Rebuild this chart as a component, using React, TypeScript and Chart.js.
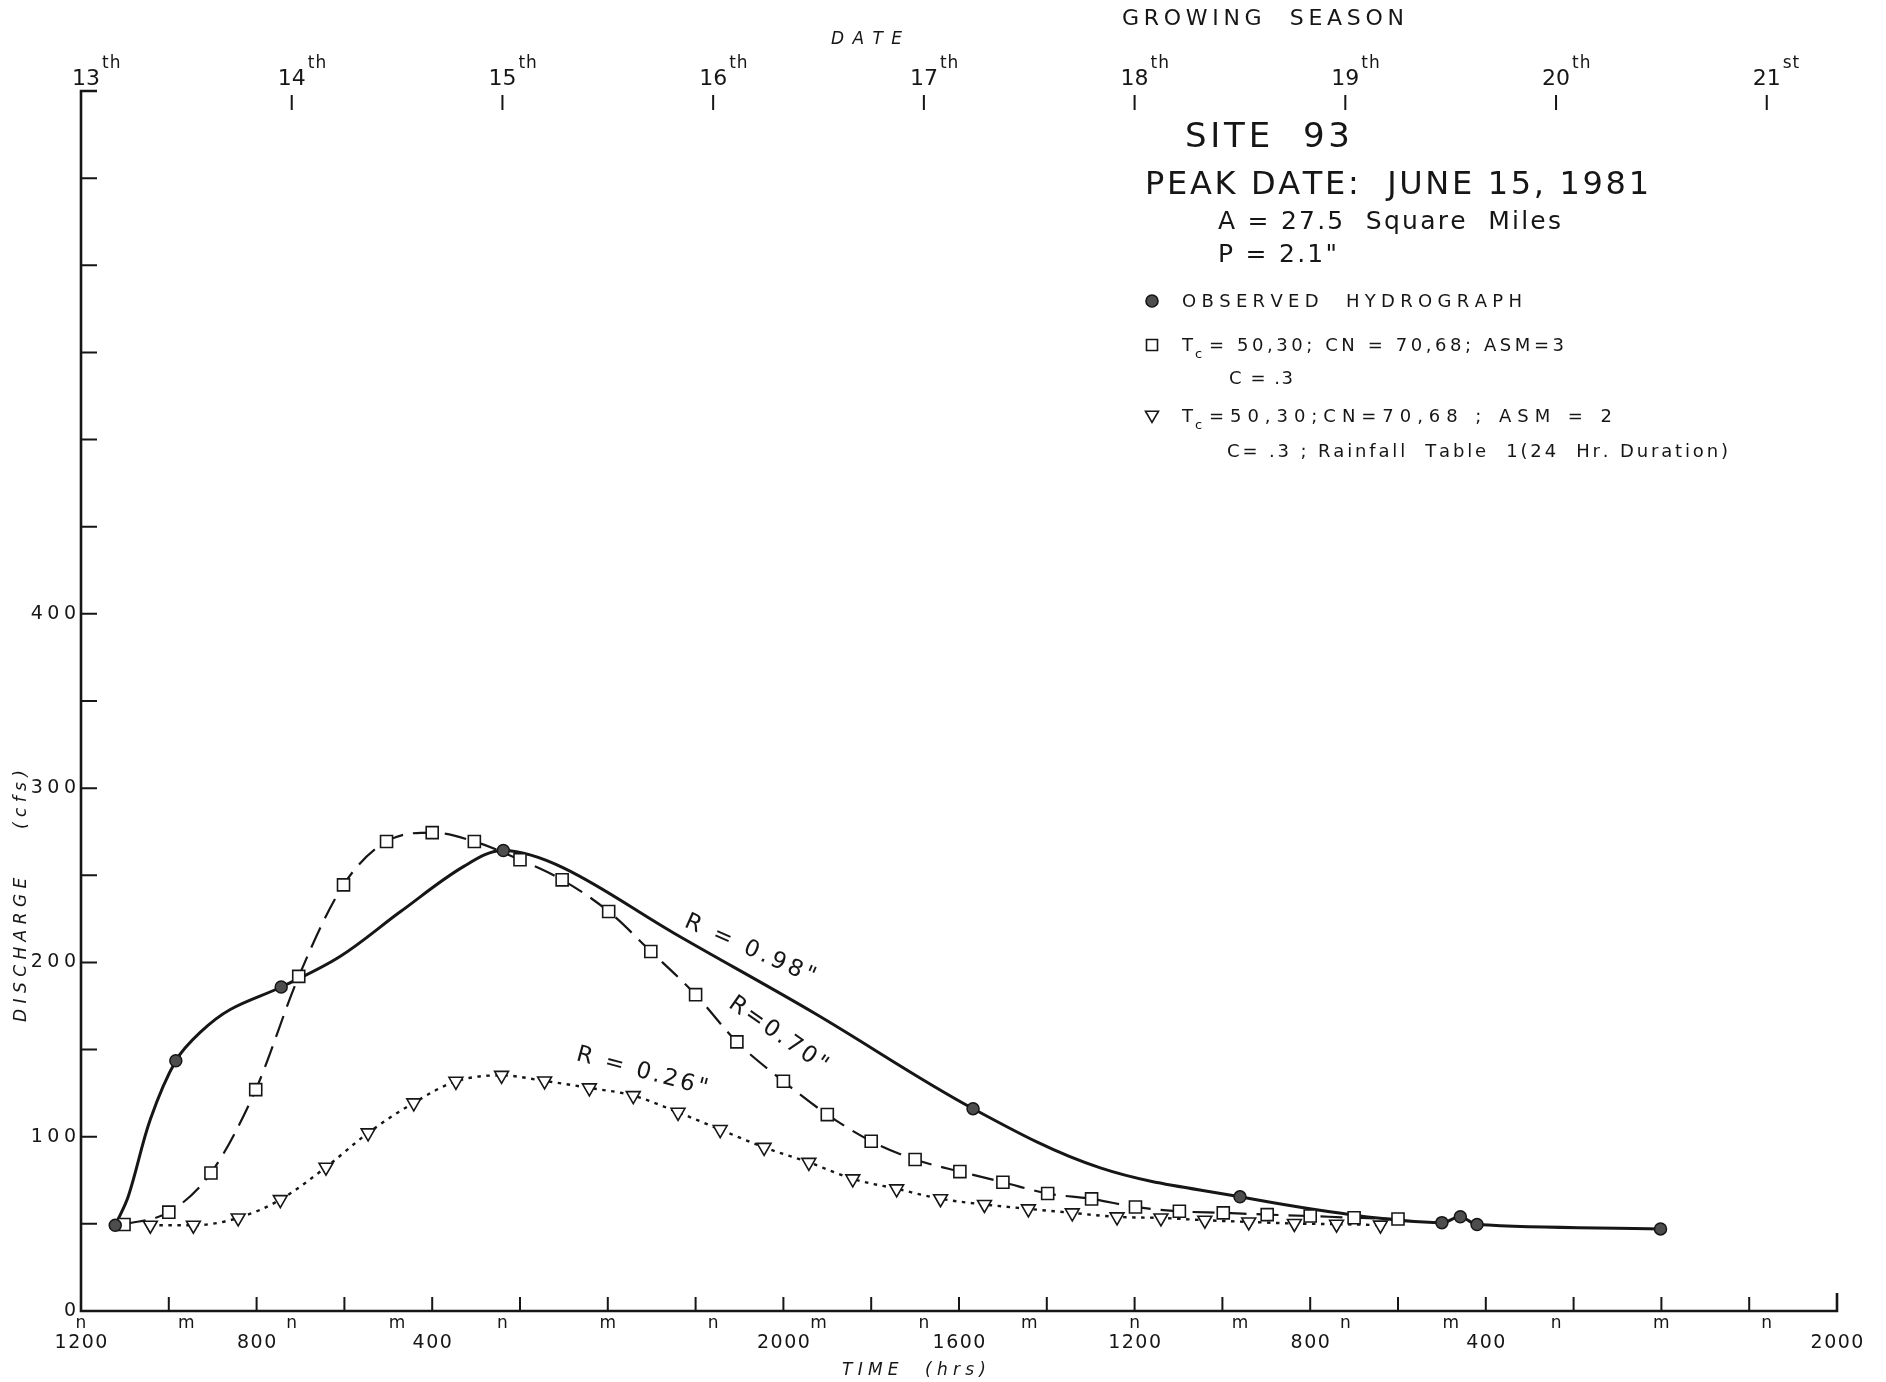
import { useEffect, useRef } from 'react';
import { Chart, registerables } from 'chart.js';

Chart.register(...registerables);

const W = 1886;
const H = 1382;

// Observed hydrograph (filled circles): hours from noon of the 13th, discharge in cfs
const observedHours = [3.9, 10.8, 22.8, 48.1, 101.6, 132.0, 155.0, 157.1, 159.0, 179.9];
const observedCfs = [49.2, 143.6, 185.9, 264.2, 116.1, 65.5, 50.7, 54.1, 49.6, 47.1];

// Hand-faired curve through the observed points (R = 0.98")
const observedCurveHours = [3.9, 5.4, 7.9, 10.8, 13.6, 17.0, 22.8, 29.5, 36.4, 43.6, 48.1, 55.0, 67.5, 83.5, 101.6, 116.1, 132.0, 145.0, 155.0, 157.1, 159.0, 179.9];
const observedCurveCfs = [49.2, 66.0, 110.0, 143.6, 160.0, 173.0, 185.9, 203.4, 229.2, 255.1, 264.2, 254.1, 216.9, 171.0, 116.1, 82.1, 65.5, 55.0, 50.7, 54.1, 49.6, 47.1];

// Tc = 50,30; CN = 70,68; ASM = 3 (open squares, R = 0.70")
const asm3Hours = [4.9, 10.0, 14.8, 19.9, 24.8, 29.9, 34.8, 40.0, 44.8, 50.0, 54.8, 60.1, 64.9, 70.0, 74.7, 80.0, 85.0, 90.0, 95.0, 100.1, 105.0, 110.1, 115.1, 120.1, 125.1, 130.1, 135.1, 140.0, 145.0, 150.0];
const asm3Cfs = [49.6, 56.7, 79.2, 127.0, 192.0, 244.5, 269.4, 274.5, 269.4, 258.9, 247.4, 229.2, 206.3, 181.5, 154.4, 131.8, 112.7, 97.4, 86.9, 80.0, 73.9, 67.4, 64.3, 59.7, 57.2, 56.3, 55.3, 54.5, 53.5, 52.8];

// Tc = 50,30; CN = 70,68; ASM = 2 (open triangles, R = 0.26")
const asm2Hours = [7.9, 12.8, 17.9, 22.7, 27.9, 32.7, 37.9, 42.7, 47.9, 52.8, 57.9, 62.9, 68.0, 72.8, 77.8, 82.9, 87.9, 92.9, 97.9, 102.9, 107.9, 112.9, 118.0, 123.0, 128.0, 133.0, 138.2, 143.0, 148.0];
const asm2Cfs = [49.2, 49.2, 53.4, 63.9, 82.5, 102.2, 119.4, 131.8, 135.2, 132.0, 128.0, 123.6, 114.0, 104.1, 93.9, 85.3, 75.8, 70.1, 64.4, 61.1, 58.6, 56.3, 54.0, 53.4, 52.1, 51.1, 50.2, 49.8, 49.3];

// Discharge axis
const dischargeTicks = [50, 100, 150, 200, 250, 300, 350, 400, 450, 500, 550, 600, 650];
const dischargeLabels = [0, 100, 200, 300, 400];

// Time axis
const timeTickHours = [10, 20, 30, 40, 50, 60, 70, 80, 90, 100, 110, 120, 130, 140, 150, 160, 170, 180, 190];
const clockHours = [0, 12, 24, 36, 48, 60, 72, 84, 96, 108, 120, 132, 144, 156, 168, 180, 192];
const clockLabels = ['n', 'm', 'n', 'm', 'n', 'm', 'n', 'm', 'n', 'm', 'n', 'm', 'n', 'm', 'n', 'm', 'n'];
const timeNumberHours = [0, 20, 40, 80, 100, 120, 140, 160, 200];
const timeNumberLabels = ['1200', '800', '400', '2000', '1600', '1200', '800', '400', '2000'];

// Date axis (top)
const dayHours = [0, 24, 48, 72, 96, 120, 144, 168, 192];
const dayNumbers = ['13', '14', '15', '16', '17', '18', '19', '20', '21'];
const daySuffixes = ['th', 'th', 'th', 'th', 'th', 'th', 'th', 'th', 'st'];

// Rainfall excess labels on the curves
const rainfallLabels = ['R = 0.98"', 'R=0.70"', 'R = 0.26"'];

const pairs = (xs: number[], ys: number[]) => xs.map((x, i) => ({ x, y: ys[i] }));

const FONT = '"DejaVu Sans", "Liberation Sans", sans-serif';
const INK = '#161616';

type Ctx = CanvasRenderingContext2D;

function spaced(ctx: Ctx, text: string, x: number, y: number, gap: number, align: 'left' | 'center' | 'right') {
  const chars = Array.from(text);
  const ws = chars.map((c) => ctx.measureText(c).width);
  const total = ws.reduce((a, b) => a + b, 0) + gap * (chars.length - 1);
  let cx = align === 'left' ? x : align === 'right' ? x - total : x - total / 2;
  ctx.textAlign = 'left';
  chars.forEach((c, i) => {
    ctx.fillText(c, cx, y);
    cx += ws[i] + gap;
  });
  return total;
}

function fitted(ctx: Ctx, text: string, x0: number, x1: number, y: number) {
  const chars = Array.from(text);
  const ws = chars.map((c) => ctx.measureText(c).width);
  const sum = ws.reduce((a, b) => a + b, 0);
  const gap = chars.length > 1 ? (x1 - x0 - sum) / (chars.length - 1) : 0;
  let cx = x0;
  ctx.textAlign = 'left';
  chars.forEach((c, i) => {
    ctx.fillText(c, cx, y);
    cx += ws[i] + gap;
  });
}

function triangleDown(ctx: Ctx, x: number, y: number, r: number) {
  ctx.beginPath();
  ctx.moveTo(x - r * 0.866, y - r * 0.5);
  ctx.lineTo(x + r * 0.866, y - r * 0.5);
  ctx.lineTo(x, y + r);
  ctx.closePath();
}

const paperPlugin = {
  id: 'hydrographPaper',
  beforeDraw(chart: any) {
    const ctx: Ctx = chart.ctx;
    ctx.save();
    ctx.fillStyle = '#ffffff';
    ctx.fillRect(0, 0, chart.width, chart.height);
    ctx.restore();
  },
  beforeDatasetsDraw(chart: any) {
    const ctx: Ctx = chart.ctx;
    const xs = chart.scales.x;
    const ys = chart.scales.y;
    const xL = xs.getPixelForValue(0);
    const xR = xs.getPixelForValue(200);
    const yB = ys.getPixelForValue(0);
    const yT = ys.getPixelForValue(700);
    ctx.save();
    ctx.strokeStyle = INK;
    ctx.lineCap = 'butt';
    ctx.lineWidth = 2.6;
    ctx.beginPath();
    ctx.moveTo(xL + 16, yT);
    ctx.lineTo(xL, yT);
    ctx.lineTo(xL, yB);
    ctx.lineTo(xR, yB);
    ctx.lineTo(xR, yB - 18);
    ctx.stroke();

    ctx.lineWidth = 2;
    ctx.beginPath();
    dischargeTicks.forEach((v) => {
      const py = ys.getPixelForValue(v);
      ctx.moveTo(xL, py);
      ctx.lineTo(xL + 16, py);
    });
    timeTickHours.forEach((h) => {
      const px = xs.getPixelForValue(h);
      ctx.moveTo(px, yB);
      ctx.lineTo(px, yB - 14);
    });
    dayHours.slice(1).forEach((h) => {
      const px = xs.getPixelForValue(h);
      ctx.moveTo(px, yT + 4);
      ctx.lineTo(px, yT + 19);
    });
    ctx.stroke();
    ctx.restore();
  },
  afterDraw(chart: any) {
    const ctx: Ctx = chart.ctx;
    const xs = chart.scales.x;
    const ys = chart.scales.y;
    const yB = ys.getPixelForValue(0);
    const yT = ys.getPixelForValue(700);
    ctx.save();
    ctx.fillStyle = INK;
    ctx.textBaseline = 'middle';

    // discharge tick labels
    ctx.font = `19px ${FONT}`;
    dischargeLabels.forEach((v) => {
      spaced(ctx, String(v), xs.getPixelForValue(0) - 5, ys.getPixelForValue(v), 4.5, 'right');
    });

    // noon / midnight letters
    ctx.font = `17px ${FONT}`;
    clockHours.forEach((h, i) => {
      spaced(ctx, clockLabels[i], xs.getPixelForValue(h), yB + 13, 0, 'center');
    });
    // clock hour numbers
    ctx.font = `19px ${FONT}`;
    timeNumberHours.forEach((h, i) => {
      spaced(ctx, timeNumberLabels[i], xs.getPixelForValue(h), yB + 32, 1.5, 'center');
    });

    // day labels along the top
    dayHours.forEach((h, i) => {
      const px = xs.getPixelForValue(h) + (i === 0 ? 5 : 0);
      ctx.font = `22px ${FONT}`;
      const w = spaced(ctx, dayNumbers[i], px, yT - 12, 0, 'center');
      ctx.font = `17px ${FONT}`;
      spaced(ctx, daySuffixes[i], px + w / 2 + 2, yT - 27, 1, 'left');
    });

    // axis titles
    ctx.font = `22px ${FONT}`;
    fitted(ctx, 'GROWING  SEASON', 1122, 1404, 19);
    ctx.font = `italic 17px ${FONT}`;
    fitted(ctx, 'DATE', 831, 902, 40);
    fitted(ctx, 'TIME  (hrs)', 842, 986, 1371);
    ctx.save();
    ctx.translate(22, 896);
    ctx.rotate(-Math.PI / 2);
    fitted(ctx, 'DISCHARGE    (cfs)', -126, 126, 0);
    ctx.restore();

    // site block
    ctx.font = `34px ${FONT}`;
    fitted(ctx, 'SITE  93', 1185, 1350, 138);
    ctx.font = `32px ${FONT}`;
    fitted(ctx, 'PEAK DATE:  JUNE 15, 1981', 1145, 1649, 186);
    ctx.font = `25px ${FONT}`;
    fitted(ctx, 'A = 27.5  Square  Miles', 1218, 1561, 222);
    fitted(ctx, 'P = 2.1"', 1218, 1337, 255);

    // legend
    ctx.font = `18px ${FONT}`;
    fitted(ctx, 'OBSERVED  HYDROGRAPH', 1182, 1522, 302);
    ctx.fillText('T', 1182, 346);
    ctx.fillText('T', 1182, 417);
    fitted(ctx, '= 50,30; CN = 70,68; ASM=3', 1209, 1564, 346);
    fitted(ctx, 'C = .3', 1229, 1293, 379);
    fitted(ctx, '=50,30;CN=70,68 ; ASM = 2', 1209, 1612, 417);
    fitted(ctx, 'C= .3 ; Rainfall  Table  1(24  Hr. Duration)', 1227, 1728, 452);
    ctx.font = `13px ${FONT}`;
    ctx.fillText('c', 1195, 355);
    ctx.fillText('c', 1195, 426);

    ctx.strokeStyle = INK;
    ctx.lineWidth = 1.6;
    ctx.beginPath();
    ctx.arc(1152, 301, 6, 0, Math.PI * 2);
    ctx.fillStyle = '#4d4d4d';
    ctx.fill();
    ctx.stroke();
    ctx.fillStyle = '#ffffff';
    ctx.beginPath();
    ctx.rect(1146.5, 339.5, 11, 11);
    ctx.fill();
    ctx.stroke();
    triangleDown(ctx, 1152, 415, 7.5);
    ctx.fill();
    ctx.stroke();

    // rainfall excess labels written along the curves
    ctx.fillStyle = INK;
    ctx.font = `23px ${FONT}`;
    const placements = [
      { h: 76.2, q: 207.4, deg: 24, len: 141 },
      { h: 79.4, q: 158.6, deg: 35, len: 115 },
      { h: 63.9, q: 137.3, deg: 15, len: 135 },
    ];
    rainfallLabels.forEach((t, i) => {
      const p = placements[i];
      ctx.save();
      ctx.translate(xs.getPixelForValue(p.h), ys.getPixelForValue(p.q));
      ctx.rotate((p.deg * Math.PI) / 180);
      fitted(ctx, t, -p.len / 2, p.len / 2, 0);
      ctx.restore();
    });
    ctx.restore();
  },
};

export default function App() {
  const ref = useRef<HTMLCanvasElement | null>(null);

  useEffect(() => {
    document.body.style.margin = '0';
    document.body.style.overflow = 'hidden';
    const canvas = ref.current;
    if (!canvas) return;
    const chart = new Chart(canvas, {
      type: 'scatter',
      data: {
        datasets: [
          {
            label: 'Observed hydrograph',
            data: pairs(observedHours, observedCfs),
            showLine: false,
            pointStyle: 'circle',
            pointRadius: 6,
            backgroundColor: '#4d4d4d',
            borderColor: INK,
            borderWidth: 1.5,
            order: 0,
            clip: false,
          },
          {
            label: 'ASM = 3',
            data: pairs(asm3Hours, asm3Cfs),
            showLine: false,
            pointStyle: 'rect',
            pointRadius: 8.5,
            backgroundColor: '#ffffff',
            borderColor: INK,
            borderWidth: 1.6,
            order: 0,
            clip: false,
          },
          {
            label: 'ASM = 2',
            data: pairs(asm2Hours, asm2Cfs),
            showLine: false,
            pointStyle: 'triangle',
            rotation: 180,
            pointRadius: 8,
            backgroundColor: '#ffffff',
            borderColor: INK,
            borderWidth: 1.6,
            order: 0,
            clip: false,
          },
          {
            label: 'Observed curve',
            data: pairs(observedCurveHours, observedCurveCfs),
            showLine: true,
            pointRadius: 0,
            borderColor: INK,
            borderWidth: 3,
            tension: 0.35,
            fill: false,
            order: 1,
            clip: false,
          },
          {
            label: 'ASM = 3 curve',
            data: pairs(asm3Hours, asm3Cfs),
            showLine: true,
            pointRadius: 0,
            borderColor: INK,
            borderWidth: 2.2,
            borderDash: [22, 10],
            cubicInterpolationMode: 'monotone',
            fill: false,
            order: 1,
            clip: false,
          },
          {
            label: 'ASM = 2 curve',
            data: pairs(asm2Hours, asm2Cfs),
            showLine: true,
            pointRadius: 0,
            borderColor: INK,
            borderWidth: 2.4,
            borderDash: [3.5, 5.5],
            cubicInterpolationMode: 'monotone',
            fill: false,
            order: 1,
            clip: false,
          },
        ] as any,
      },
      options: {
        responsive: false,
        devicePixelRatio: 1,
        animation: false,
        events: [],
        layout: { padding: { left: 81, right: W - 1837, top: 91, bottom: H - 1311 } },
        scales: {
          x: { type: 'linear', min: 0, max: 200, display: false },
          y: { type: 'linear', min: 0, max: 700, display: false },
        },
        plugins: {
          legend: { display: false },
          tooltip: { enabled: false },
        },
      },
      plugins: [paperPlugin],
    });
    return () => chart.destroy();
  }, []);

  return (
    <div style={{ position: 'absolute', left: 0, top: 0, width: W, height: H }}>
      <canvas ref={ref} width={W} height={H} style={{ display: 'block', width: W, height: H }} />
    </div>
  );
}
